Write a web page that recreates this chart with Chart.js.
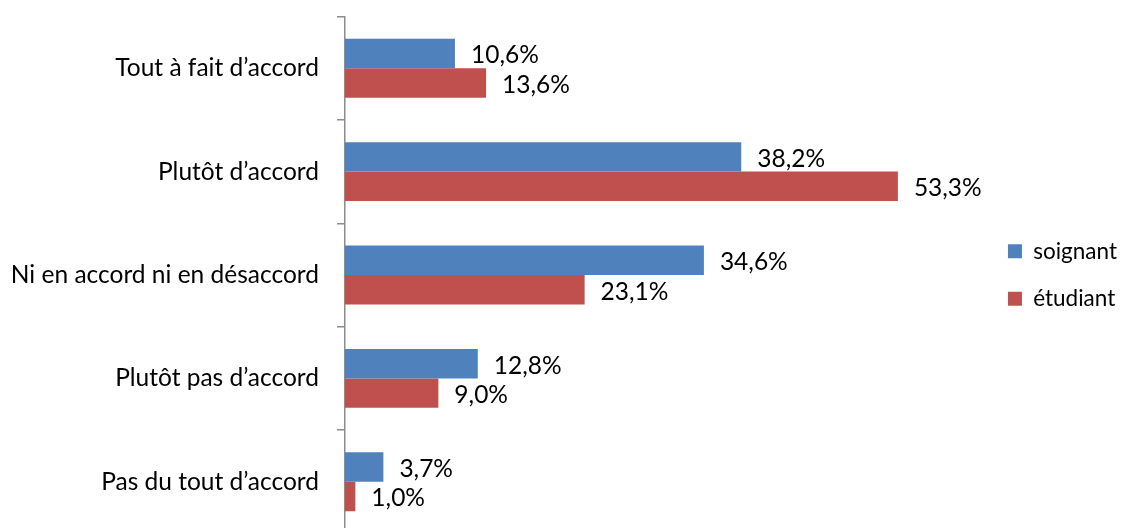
<!DOCTYPE html>
<html>
<head>
<meta charset="utf-8">
<script src="https://cdn.jsdelivr.net/npm/chart.js@4/dist/chart.umd.min.js"></script>
<style>
  html, body { margin: 0; padding: 0; background: #fff; overflow: hidden; }
  canvas { display: block; }
</style>
</head>
<body>
<canvas id="myChart" width="1127" height="550"></canvas>
<script>
var categories = ['Tout à fait d\u2019accord', 'Plutôt d\u2019accord', 'Ni en accord ni en désaccord', 'Plutôt pas d\u2019accord', 'Pas du tout d\u2019accord'];
var soignant = [10.6, 38.2, 34.6, 12.8, 3.7];
var etudiant = [13.6, 53.3, 23.1, 9.0, 1.0];
var seriesNames = ['soignant', 'étudiant'];

var FONT = 'Lato';

// value labels to the right of each bar, french decimal comma
var barLabels = {
  id: 'barLabels',
  afterDatasetsDraw: function (chart) {
    var ctx = chart.ctx;
    ctx.save();
    ctx.font = '24.5px ' + FONT;
    ctx.fillStyle = '#000';
    ctx.textAlign = 'left';
    ctx.textBaseline = 'middle';
    chart.data.datasets.forEach(function (ds, i) {
      chart.getDatasetMeta(i).data.forEach(function (bar, j) {
        var txt = ds.data[j].toFixed(1).replace('.', ',') + '%';
        ctx.fillText(txt, bar.x + 16, bar.y + 2);
      });
    });
    ctx.restore();
  }
};

var ctx = document.getElementById('myChart').getContext('2d');
var chart = new Chart(ctx, {
  type: 'bar',
  data: {
    labels: categories,
    datasets: [{
      label: seriesNames[0],
      data: soignant,
      backgroundColor: '#4F81BD',
      categoryPercentage: 0.57,
      barPercentage: 1
    },
    {
      label: seriesNames[1],
      data: etudiant,
      backgroundColor: '#C0504D',
      categoryPercentage: 0.57,
      barPercentage: 1
    }]
  },
  options: {
    indexAxis: 'y',
    responsive: false,
    animation: false,
    layout: {
      padding: { top: 16.5, bottom: 16.5, left: 0, right: 0 }
    },
    plugins: {
      legend: {
        position: 'right',
        labels: {
          font: { family: FONT, size: 22.5 },
          color: '#000',
          boxWidth: 14,
          boxHeight: 14,
          padding: 25
        }
      },
      tooltip: { enabled: false }
    },
    scales: {
      x: {
        display: false,
        min: 0,
        max: 61.5
      },
      y: {
        border: { color: '#8C8C8C', width: 1.5 },
        grid: {
          offset: true,
          drawOnChartArea: false,
          color: '#8C8C8C',
          lineWidth: 1.5,
          tickLength: 8
        },
        ticks: {
          font: { family: FONT, size: 24.5 },
          color: '#000',
          padding: 18
        },
        afterFit: function (scale) {
          // labels are long, keep the axis where the original puts it
          scale.width = 345;
          scale.paddingTop = 0;
          scale.paddingBottom = 0;
        }
      }
    }
  },
  plugins: [barLabels]
});
</script>
</body>
</html>
